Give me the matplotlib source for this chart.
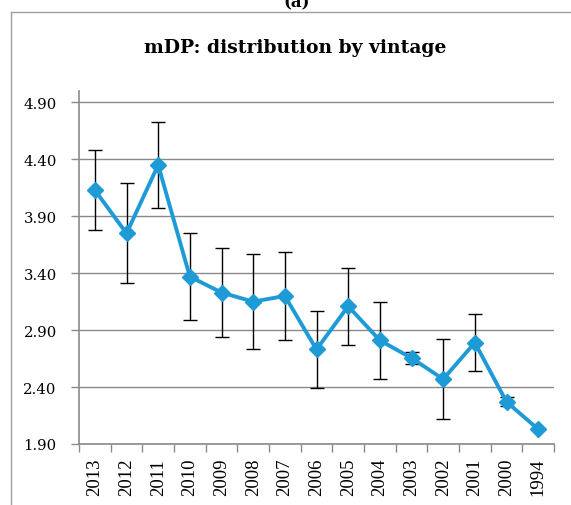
import matplotlib
matplotlib.use("Agg")
import matplotlib.pyplot as plt
from matplotlib.lines import Line2D
import numpy as np

vintages = ["2013", "2012", "2011", "2010", "2009", "2008", "2007", "2006",
            "2005", "2004", "2003", "2002", "2001", "2000", "1994"]
mdp_mean = [4.13, 3.75, 4.35, 3.37, 3.23, 3.15, 3.20, 2.73,
            3.11, 2.81, 2.655, 2.47, 2.79, 2.27, 2.03]
mdp_err = [0.35, 0.44, 0.38, 0.38, 0.39, 0.42, 0.39, 0.34,
           0.34, 0.335, 0.05, 0.35, 0.25, 0.04, 0.0]
yticks = [1.90, 2.40, 2.90, 3.40, 3.90, 4.40, 4.90]

W, H = 571, 506
fig = plt.figure(figsize=(W / 100, H / 100), dpi=100)
ax = fig.add_axes([79 / W, 1 - 445 / H, (554 - 79) / W, (445 - 92) / H])

x = np.arange(len(vintages))
blue = "#1E9BD7"
ax.errorbar(x, mdp_mean, yerr=mdp_err, fmt="none", ecolor="black",
            elinewidth=1.0, capsize=5, capthick=1.0, zorder=3)
ax.plot(x, mdp_mean, color=blue, lw=2.8, marker="D", markersize=8,
        markerfacecolor=blue, markeredgecolor=blue, zorder=4)

ax.set_xlim(-0.5, len(vintages) - 0.5)
ax.set_ylim(1.90, 5.0)
ax.set_yticks(yticks)
ax.set_yticklabels([f"{v:.2f}" for v in yticks], family="DejaVu Serif", fontsize=10.7)
ax.yaxis.grid(True, color="#8a8a8a", lw=1.0)
ax.set_axisbelow(True)

ax.set_xticks(x)
ax.set_xticklabels(vintages, rotation=90, family="Liberation Serif", fontsize=13.5)
ax.set_xticks(np.arange(-0.5, len(vintages)), minor=True)
ax.tick_params(axis="x", which="major", length=0, pad=10)
ax.tick_params(axis="x", which="minor", length=6, color="#8a8a8a", width=1)
ax.tick_params(axis="y", length=6, color="#8a8a8a", width=1, pad=10)

for s in ["top", "right"]:
    ax.spines[s].set_visible(False)
for s in ["left", "bottom"]:
    ax.spines[s].set_color("#8a8a8a")
    ax.spines[s].set_linewidth(1.2)

fig.text(295 / W, 1 - 48 / H, "mDP: distribution by vintage", ha="center", va="center",
         family="DejaVu Serif", fontweight="bold", fontsize=13.5)
fig.text(297 / W, 1 - 3 / H, "(a)", ha="center", va="center",
         family="DejaVu Serif", fontweight="bold", fontsize=12)

fig.add_artist(Line2D([11 / W, 11 / W], [0, 1 - 13 / H], transform=fig.transFigure,
                      color="#a0a0a0", lw=1.0))
fig.add_artist(Line2D([11 / W, 1], [1 - 13 / H, 1 - 13 / H], transform=fig.transFigure,
                      color="#a0a0a0", lw=1.0))

fig.savefig("out.png", dpi=100)
